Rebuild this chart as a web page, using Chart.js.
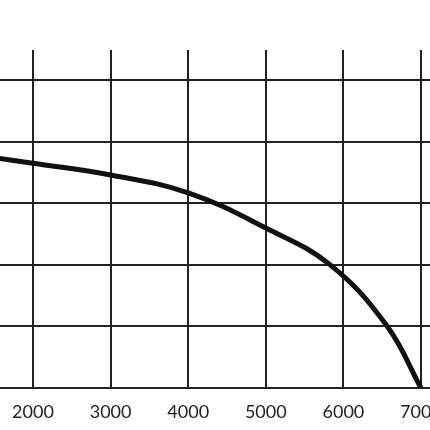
<!DOCTYPE html>
<html>
<head>
<meta charset="utf-8">
<script src="https://cdn.jsdelivr.net/npm/chart.js@4/dist/chart.umd.min.js"></script>
<style>
html,body{margin:0;padding:0;background:#fff;}
#wrap{width:430px;height:430px;}
</style>
</head>
<body>
<div id="wrap"><canvas id="c" width="430" height="430"></canvas></div>
<script>
// Data
const xValues = [1500, 2000, 3000, 4000, 5000, 5830, 6560, 7000];
const yValues = [3.74, 3.65, 3.46, 3.17, 2.60, 2.00, 1.01, 0];
const xTicks = [2000, 3000, 4000, 5000, 6000, 7000];
const yTicks = [0, 1, 2, 3, 4, 5];

const points = xValues.map((x, i) => ({x: x, y: yValues[i]}));

new Chart(document.getElementById('c'), {
  type: 'line',
  data: {
    datasets: [{
      data: points,
      borderColor: '#111',
      borderWidth: 5,
      pointRadius: 0,
      fill: false,
      tension: 0.4
    }]
  },
  options: {
    responsive: false,
    animation: false,
    devicePixelRatio: 1,
    layout: {padding: {top: 50, left: 0, right: 0, bottom: 0}},
    plugins: {legend: {display: false}, tooltip: {enabled: false}},
    scales: {
      x: {
        type: 'linear',
        min: 1575,
        max: 7116,
        afterBuildTicks: (s) => { s.ticks = xTicks.map(v => ({value: v})); },
        afterFit: (s) => { s.paddingLeft = 0; s.paddingRight = 0; s.height = 42; },
        ticks: {
          color: '#222',
          font: {family: 'Lato', size: 18},
          padding: 13,
          maxRotation: 0,
          autoSkip: false,
          callback: (v) => String(v)
        },
        grid: {color: '#222', lineWidth: 2, drawTicks: false},
        border: {display: true, color: '#222', width: 2}
      },
      y: {
        min: 0,
        max: 5.49,
        afterBuildTicks: (s) => { s.ticks = yTicks.map(v => ({value: v})); },
        afterFit: (s) => { s.width = 0; },
        ticks: {display: false},
        grid: {color: '#222', lineWidth: 2, drawTicks: false},
        border: {display: false}
      }
    }
  }
});
</script>
</body>
</html>
